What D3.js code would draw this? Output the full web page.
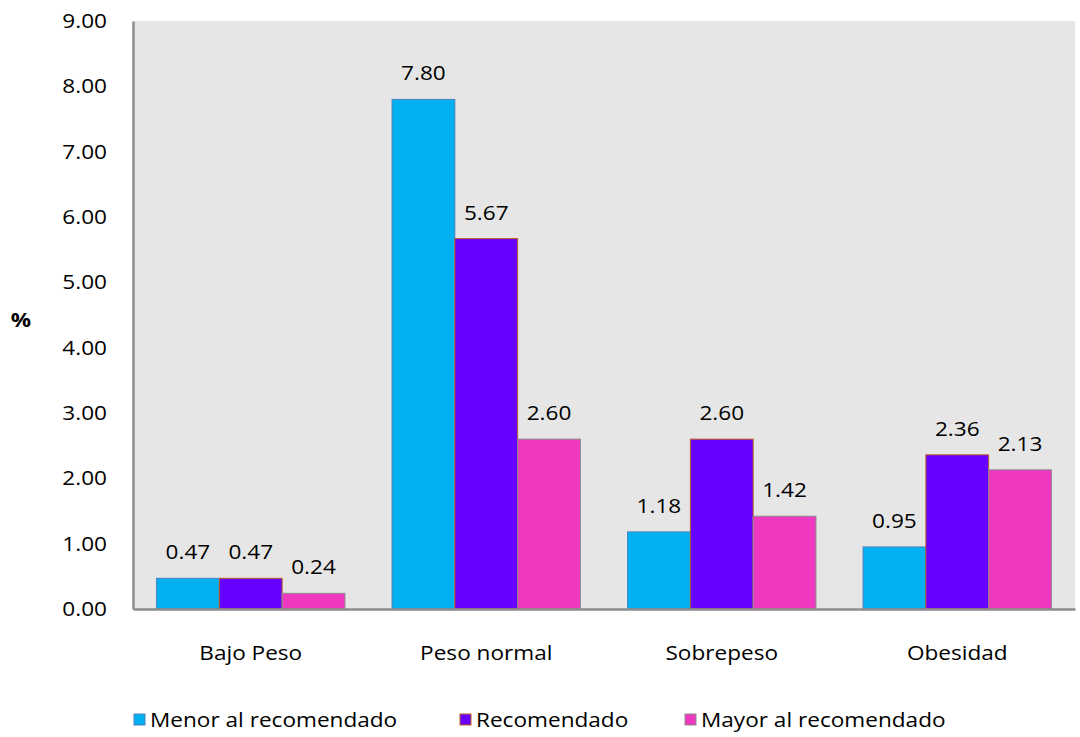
<!DOCTYPE html>
<html><head><meta charset="utf-8">
<script src="https://cdn.jsdelivr.net/npm/d3@7/dist/d3.min.js"></script>
<style>body{margin:0;background:#fff;} svg{display:block;font-family:"Open Sans",sans-serif;}</style>
</head><body>
<svg id="c" width="1080" height="737"></svg>
<script>
const categories = ["Bajo Peso", "Peso normal", "Sobrepeso", "Obesidad"];
const seriesNames = ["Menor al recomendado", "Recomendado", "Mayor al recomendado"];
const menor = [0.47, 7.80, 1.18, 0.95];
const recomendado = [0.47, 5.67, 2.60, 2.36];
const mayor = [0.24, 2.60, 1.42, 2.13];
const yTicks = [0,1,2,3,4,5,6,7,8,9];
const fills = ["#00b0f0", "#6600ff", "#ee38c0"];
const strokes = ["#4f81bd", "#c0601d", "#8c8c8c"];
const series = [menor, recomendado, mayor];

const FS = 20, SX = 1.13;
function stretch(sel) {
  sel.each(function () {
    const t = d3.select(this);
    const x = +t.attr("x") || 0;
    t.attr("x", x / SX).attr("transform", `scale(${SX},1)`)
     .attr("font-size", FS).attr("font-family", "'Open Sans',sans-serif").attr("fill", "#000");
  });
}

const svg = d3.select("#c");
const L = 133, R = 1075, T = 21, B = 609;
svg.append("rect").attr("x", L).attr("y", T).attr("width", R - L).attr("height", B - T).attr("fill", "#e6e6e6");

const x = d3.scaleBand().domain(categories).range([L, R]).paddingInner(0.2).paddingOuter(0.1);
const xs = d3.scaleBand().domain(d3.range(3)).range([0, x.bandwidth()]);
const y = d3.scaleLinear().domain([0, 9]).range([B, T]);

// bars
series.forEach((vals, si) => {
  const g = svg.append("g");
  g.selectAll("rect").data(vals).join("rect")
    .attr("x", (d, i) => x(categories[i]) + xs(si))
    .attr("y", d => y(d))
    .attr("width", xs.bandwidth())
    .attr("height", d => B - y(d))
    .attr("fill", fills[si])
    .attr("stroke", strokes[si]).attr("stroke-width", 1);
  g.selectAll("text").data(vals).join("text")
    .attr("x", (d, i) => x(categories[i]) + xs(si) + xs.bandwidth() / 2)
    .attr("y", d => y(d) - 19)
    .attr("text-anchor", "middle")
    .text(d => d.toFixed(2))
    .call(stretch);
});

// y axis
const yAxis = d3.axisLeft(y).tickValues(yTicks).tickFormat(d => d.toFixed(2)).tickSize(0).tickPadding(26);
const ga = svg.append("g").attr("transform", `translate(${L},0)`).call(yAxis);
ga.select(".domain").attr("stroke", "#8c8c8c").attr("stroke-width", 2.5);
ga.selectAll("text").call(stretch);

// x axis
const xAxis = d3.axisBottom(x).tickSize(0).tickPadding(37);
const gx = svg.append("g").attr("transform", `translate(0,${B})`).call(xAxis);
gx.select(".domain").attr("stroke", "#8c8c8c").attr("stroke-width", 2.5);
gx.selectAll("text").call(stretch);

// y title
svg.append("text").attr("x", 21).attr("y", 327).attr("text-anchor", "middle")
  .attr("font-weight", "bold").text("%").call(stretch);

// legend
const legX = [134, 460, 685];
seriesNames.forEach((n, i) => {
  svg.append("rect").attr("x", legX[i]).attr("y", 714).attr("width", 11).attr("height", 11)
    .attr("fill", fills[i]).attr("stroke", strokes[i]).attr("stroke-width", 1);
  svg.append("text").attr("x", legX[i] + 16).attr("y", 727).text(n).call(stretch);
});
</script>
</body></html>
